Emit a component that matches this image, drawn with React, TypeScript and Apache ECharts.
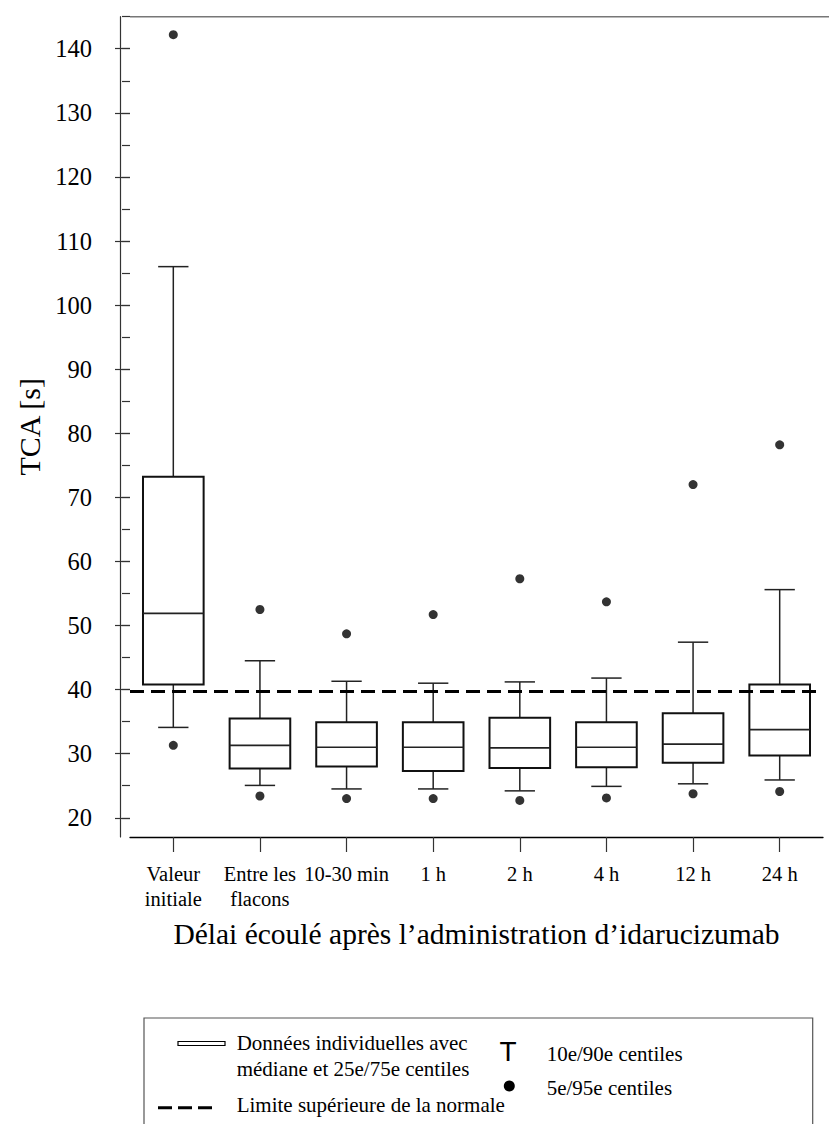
import React, { useEffect, useRef } from "react";
import * as echarts from "echarts";

const categories = [
  "Valeur\ninitiale",
  "Entre les\nflacons",
  "10-30 min",
  "1 h",
  "2 h",
  "4 h",
  "12 h",
  "24 h",
];
const p5 = [31.3, 23.4, 23.0, 23.0, 22.7, 23.1, 23.75, 24.1];
const p10 = [34.1, 25.05, 24.5, 24.5, 24.2, 24.9, 25.3, 25.9];
const q1 = [40.8, 27.7, 28.0, 27.3, 27.75, 27.9, 28.6, 29.7];
const median = [51.9, 31.3, 31.0, 31.0, 30.9, 31.0, 31.5, 33.75];
const q3 = [73.2, 35.5, 34.9, 34.9, 35.6, 34.9, 36.3, 40.8];
const p90 = [106.0, 44.5, 41.3, 41.0, 41.2, 41.8, 47.4, 55.6];
const p95 = [142.2, 52.5, 48.7, 51.7, 57.3, 53.7, 72.0, 78.2];
const upperLimit = 39.8;
// axis extent and tick layout
const yMin = 17;
const yMax = 145;
const labelMin = 20;
const labelMax = 140;
const majorStep = 10;
const minorStep = 5;

const SERIF = "Liberation Serif";
const SANS = "Liberation Sans";

const GRID_TOP = 16.7;
const GRID_BOTTOM_Y = 837;
const H = 1124;

export default function App() {
  const ref = useRef<HTMLDivElement>(null);

  useEffect(() => {
    if (!ref.current) return;
    const chart = echarts.init(ref.current, null, { renderer: "svg" });

    const boxData = categories.map((_, i) => [i, p10[i], q1[i], median[i], q3[i], p90[i]]);
    const dotData: number[][] = [];
    categories.forEach((_, i) => {
      dotData.push([i, p5[i]]);
      dotData.push([i, p95[i]]);
    });

    // auxiliary tick grids share the main grid's vertical scale
    const pxPerUnit = (GRID_BOTTOM_Y - GRID_TOP) / (yMax - yMin);
    const yOf = (v: number) => GRID_BOTTOM_Y - (v - yMin) * pxPerUnit;
    const majTop = yOf(labelMax);
    const majBottom = H - yOf(labelMin);
    const minTop = yOf(yMax);

    const hiddenX = (gridIndex: number) => ({
      type: "value",
      gridIndex,
      show: false,
      min: 0,
      max: 1,
    });

    const option: any = {
      animation: false,
      backgroundColor: "#fff",
      grid: [
        { left: 130, right: 6, top: GRID_TOP, bottom: H - GRID_BOTTOM_Y },
        { left: 130, right: 6, top: majTop, bottom: majBottom },
        { left: 130, right: 6, top: minTop, bottom: majBottom },
      ],
      xAxis: [
        {
          type: "category",
          gridIndex: 0,
          data: categories,
          boundaryGap: true,
          name: "Délai écoulé après l’administration d’idarucizumab",
          nameLocation: "middle",
          nameGap: 82,
          nameTextStyle: { fontFamily: SERIF, fontSize: 29.5, color: "#000" },
          axisLine: { show: true, lineStyle: { color: "#000", width: 1.3 } },
          axisTick: { show: true, alignWithLabel: true, length: 15, lineStyle: { color: "#333", width: 1.2 } },
          axisLabel: {
            interval: 0,
            margin: 24,
            fontFamily: SERIF,
            fontSize: 20.5,
            lineHeight: 25,
            color: "#000",
          },
          splitLine: { show: false },
        },
        hiddenX(1),
        hiddenX(2),
      ],
      yAxis: [
        {
          type: "value",
          gridIndex: 0,
          min: yMin,
          max: yMax,
          position: "left",
          offset: 10,
          name: "TCA [s]",
          nameLocation: "middle",
          nameGap: 76,
          nameRotate: 90,
          nameTextStyle: { fontFamily: SERIF, fontSize: 30, color: "#000" },
          axisLine: { show: true, lineStyle: { color: "#333", width: 1.2 } },
          axisTick: { show: false },
          axisLabel: { show: false },
          splitLine: { show: false },
        },
        {
          type: "value",
          gridIndex: 1,
          min: labelMin,
          max: labelMax,
          interval: majorStep,
          position: "left",
          offset: 10,
          axisLine: { show: false },
          axisTick: { show: true, length: 15, lineStyle: { color: "#333", width: 1.2 } },
          axisLabel: {
            show: true,
            margin: 28,
            fontFamily: SERIF,
            fontSize: 24.5,
            color: "#000",
          },
          splitLine: { show: false },
        },
        {
          type: "value",
          gridIndex: 2,
          min: labelMin,
          max: yMax,
          interval: minorStep,
          position: "left",
          offset: 10,
          axisLine: { show: false },
          axisTick: { show: true, length: 8, lineStyle: { color: "#333", width: 1.2 } },
          axisLabel: { show: false },
          splitLine: { show: false },
        },
      ],
      series: [
        {
          type: "custom",
          name: "box",
          xAxisIndex: 0,
          yAxisIndex: 0,
          data: boxData,
          encode: { x: 0, y: [1, 2, 3, 4, 5] },
          renderItem: (params: any, api: any) => {
            const x = api.value(0);
            const pLo = api.coord([x, api.value(1)]);
            const pQ1 = api.coord([x, api.value(2)]);
            const pMed = api.coord([x, api.value(3)]);
            const pQ3 = api.coord([x, api.value(4)]);
            const pHi = api.coord([x, api.value(5)]);
            const band = api.size([1, 0])[0];
            const bw = band * 0.7;
            const cw = band * 0.35;
            const cx = pMed[0];
            const wStyle = { stroke: "#222", lineWidth: 1.5 };
            return {
              type: "group",
              children: [
                { type: "line", shape: { x1: cx, y1: pHi[1], x2: cx, y2: pQ3[1] }, style: wStyle },
                { type: "line", shape: { x1: cx, y1: pQ1[1], x2: cx, y2: pLo[1] }, style: wStyle },
                { type: "line", shape: { x1: cx - cw / 2, y1: pHi[1], x2: cx + cw / 2, y2: pHi[1] }, style: wStyle },
                { type: "line", shape: { x1: cx - cw / 2, y1: pLo[1], x2: cx + cw / 2, y2: pLo[1] }, style: wStyle },
                {
                  type: "rect",
                  shape: { x: cx - bw / 2, y: pQ3[1], width: bw, height: pQ1[1] - pQ3[1] },
                  style: { fill: "#fff", stroke: "#111", lineWidth: 2 },
                },
                {
                  type: "line",
                  shape: { x1: cx - bw / 2, y1: pMed[1], x2: cx + bw / 2, y2: pMed[1] },
                  style: { stroke: "#222", lineWidth: 1.6 },
                },
              ],
            };
          },
          z: 3,
        },
        {
          type: "scatter",
          name: "dots",
          xAxisIndex: 0,
          yAxisIndex: 0,
          data: dotData,
          symbol: "circle",
          symbolSize: 9,
          itemStyle: { color: "#000" },
          z: 4,
          markLine: {
            silent: true,
            symbol: ["none", "none"],
            label: { show: false },
            lineStyle: { type: [14, 7], width: 3, color: "#000" },
            data: [{ yAxis: upperLimit }],
            z: 5,
          },
        },
      ],
      graphic: [
        {
          type: "line",
          shape: { x1: 130, y1: GRID_TOP, x2: 829, y2: GRID_TOP },
          style: { stroke: "#777", lineWidth: 1.5 },
        },
        {
          type: "rect",
          shape: { x: 144, y: 1018, width: 668.7, height: 200 },
          style: { fill: "none", stroke: "#555", lineWidth: 1.2 },
        },
        {
          type: "rect",
          shape: { x: 178, y: 1041.5, width: 47, height: 4 },
          style: { fill: "#fff", stroke: "#000", lineWidth: 1.2 },
        },
        {
          type: "line",
          shape: { x1: 158, y1: 1107.7, x2: 218, y2: 1107.7 },
          style: { stroke: "#000", lineWidth: 3, lineDash: [14, 6] },
        },
        {
          type: "circle",
          shape: { cx: 509.3, cy: 1086, r: 5.5 },
          style: { fill: "#000" },
        },
        {
          type: "text",
          x: 508,
          y: 1051,
          style: {
            text: "T",
            fontFamily: SANS,
            fontSize: 28,
            fill: "#000",
            align: "center",
            verticalAlign: "middle",
          },
        },
        {
          type: "text",
          x: 236.7,
          y: 1042.5,
          style: { text: "Données individuelles avec", fontFamily: SERIF, fontSize: 21, fill: "#000", verticalAlign: "middle" },
        },
        {
          type: "text",
          x: 236.7,
          y: 1068.5,
          style: { text: "médiane et 25e/75e centiles", fontFamily: SERIF, fontSize: 21, fill: "#000", verticalAlign: "middle" },
        },
        {
          type: "text",
          x: 236.7,
          y: 1105,
          style: { text: "Limite supérieure de la normale", fontFamily: SERIF, fontSize: 21, fill: "#000", verticalAlign: "middle" },
        },
        {
          type: "text",
          x: 546.7,
          y: 1054,
          style: { text: "10e/90e centiles", fontFamily: SERIF, fontSize: 21, fill: "#000", verticalAlign: "middle" },
        },
        {
          type: "text",
          x: 546.7,
          y: 1088,
          style: { text: "5e/95e centiles", fontFamily: SERIF, fontSize: 21, fill: "#000", verticalAlign: "middle" },
        },
      ],
    };

    chart.setOption(option);
    return () => {
      chart.dispose();
    };
  }, []);

  return (
    <div
      ref={ref}
      style={{ position: "fixed", left: 0, top: 0, width: 829, height: 1124, background: "#fff" }}
    />
  );
}
